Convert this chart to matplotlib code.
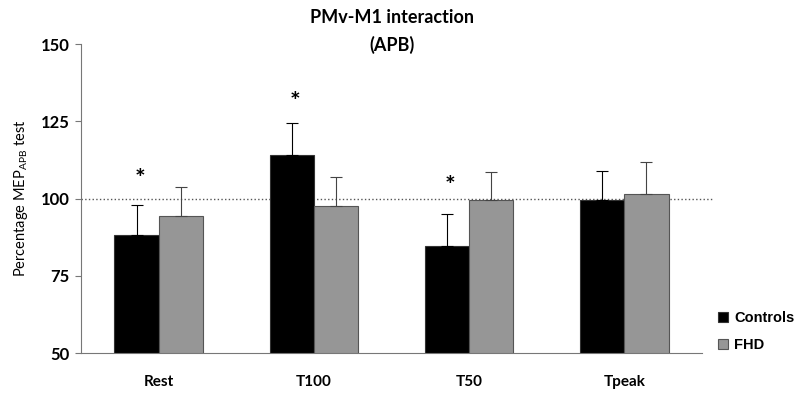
import numpy as np
import matplotlib.pyplot as plt

categories = ['Rest', 'T100', 'T50', 'Tpeak']
controls = [88.2, 114.0, 84.7, 99.5]
controls_err = [9.7, 10.5, 10.3, 9.5]
fhd = [94.2, 97.5, 99.5, 101.4]
fhd_err = [9.6, 9.5, 9.2, 10.5]
star_idx = [0, 1, 2]
star_y = [106, 131, 104]

plt.rcParams['font.family'] = ['Lato', 'DejaVu Sans']

fig = plt.figure(figsize=(8.03, 3.95), dpi=100)
ax = fig.add_axes([0.1009, 0.1063, 0.7733, 0.7823])

x = np.arange(len(categories))
w = 0.285
ax.bar(x - w/2, controls, w, bottom=0, color='black', edgecolor='#333333', linewidth=0.8,
       label='Controls', zorder=2)
ax.bar(x + w/2, fhd, w, bottom=0, color='#969696', edgecolor='#555555', linewidth=0.8,
       label='FHD', zorder=2)
ax.errorbar(x - w/2, controls, yerr=[np.zeros(4), controls_err], fmt='none',
            ecolor='black', elinewidth=0.8, capsize=4, capthick=0.8, zorder=3)
ax.errorbar(x + w/2, fhd, yerr=[np.zeros(4), fhd_err], fmt='none',
            ecolor='#444444', elinewidth=0.8, capsize=4, capthick=0.8, zorder=3)

for i, yy in zip(star_idx, star_y):
    ax.text(x[i] - w/2 + 0.02, yy, '*', ha='center', va='center', fontsize=18,
            fontweight='bold')

ax.plot([-0.5, 3.57], [100, 100], ls=':', color='#555555', lw=1.0, clip_on=False, zorder=1)

ax.set_xlim(-0.5, 3.5)
ax.set_ylim(50, 150)
ax.set_yticks([50, 75, 100, 125, 150])
ax.set_xticks(x)
ax.set_xticklabels(categories, fontweight='bold', fontsize=11)
for t in ax.get_yticklabels():
    t.set_fontweight('bold')
    t.set_fontsize(12)
ax.tick_params(axis='x', length=0, pad=16)
ax.tick_params(axis='y', length=4, color='#777777', pad=4)
for s in ['top', 'right']:
    ax.spines[s].set_visible(False)
for s in ['left', 'bottom']:
    ax.spines[s].set_color('#777777')

ax.set_ylabel('Percentage MEP$_{\\mathregular{APB}}$ test', fontsize=10.5, labelpad=8)
fig.text(0.488, 0.955, 'PMv-M1 interaction', ha='center', va='center', fontsize=13,
         fontweight='bold')
fig.text(0.488, 0.887, '(APB)', ha='center', va='center', fontsize=13, fontweight='bold')

leg = ax.legend(loc='center left', bbox_to_anchor=(1.005, 0.07), frameon=False,
                prop={'family': 'Liberation Sans', 'weight': 'bold', 'size': 10.5},
                handlelength=0.7, handleheight=0.7, handletextpad=0.4, labelspacing=0.9)

fig.savefig('out.png', dpi=100)
